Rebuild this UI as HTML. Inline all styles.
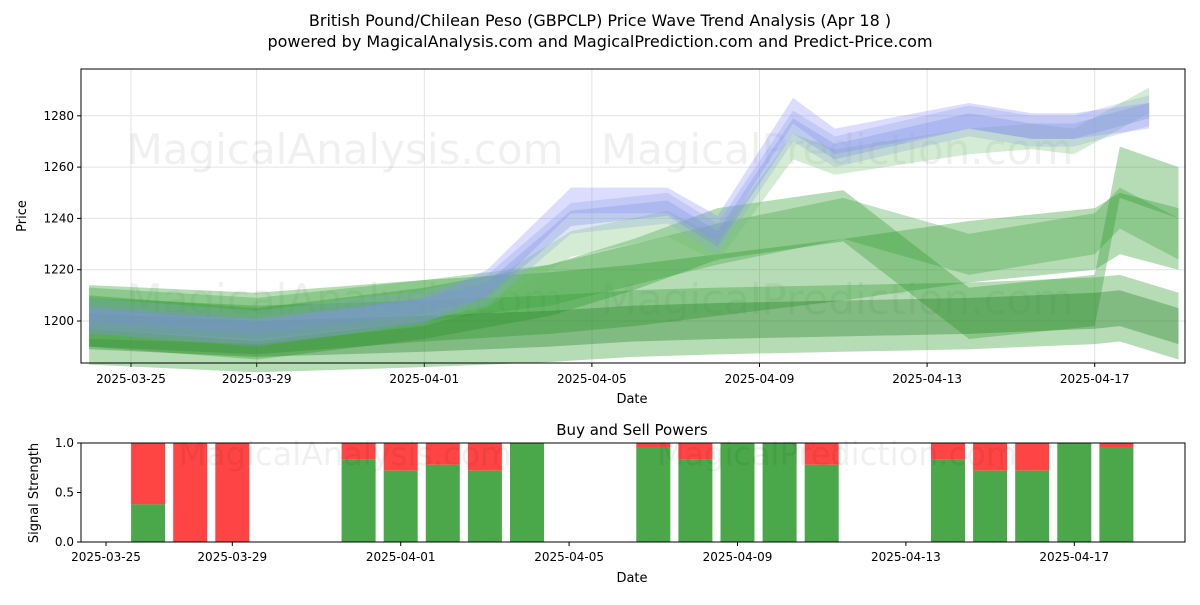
<!DOCTYPE html>
<html><head><meta charset="utf-8"><style>
body{margin:0;background:#fff;font-family:"Liberation Sans","DejaVu Sans",sans-serif}
svg text{font-family:"DejaVu Sans","Liberation Sans",sans-serif}
</style></head><body>
<svg id="c" width="1200" height="600" xmlns="http://www.w3.org/2000/svg">
<rect width="1200" height="600" fill="#fff"/>
<text x="600" y="26" text-anchor="middle" font-size="16">British Pound/Chilean Peso (GBPCLP) Price Wave Trend Analysis (Apr 18 )</text>
<text x="600" y="47" text-anchor="middle" font-size="16">powered by MagicalAnalysis.com and MagicalPrediction.com and Predict-Price.com</text>
<g id="topPanel"></g><g id="botPanel"></g>
</svg>
<script>
const ns="http://www.w3.org/2000/svg";
// ---- data ----
const bandDays=[-1,3,7,8.5,10.5,12.8,14.0,15.8,16.8,20,21.5,22.5,24.3];
const blue1=[1200,1195,1204,1215,1247,1247,1236,1282,1270,1280,1276,1276,1280];
const blue2=[1203,1198,1206,1212,1240,1244,1232,1276,1266,1278,1274,1274,1282];
const blue3=[1198,1196,1203,1210,1230,1238,1228,1268,1262,1270,1272,1270,1286];
const greenDays=[-1,3,7,10,12,14,17,20,23,23.6,25];
const gA=[1200,1195,1203,1212,1222,1234,1241,1203,1208,1258,1250];
const gB=[1202,1199,1204,1207,1210,1214,1220,1227,1232,1238,1232];
const gC=[1196,1193,1195,1197,1199,1200,1201,1202,1204,1205,1198];
const gD=[1205,1201,1208,1214,1222,1230,1240,1226,1234,1244,1232];
const yTicks=[1200,1220,1240,1260,1280];
const xTickDays=[0,3,7,11,15,19,23];
const xTickLabels=["2025-03-25","2025-03-29","2025-04-01","2025-04-05","2025-04-09","2025-04-13","2025-04-17"];
const barDays=[1,2,3,6,7,8,9,10,13,14,15,16,17,20,21,22,23,24];
const buyVals=[0.38,0,0,0.83,0.72,0.78,0.72,1,0.95,0.83,1,1,0.78,0.83,0.72,0.72,1,0.95];
const sigTicks=[0,0.5,1];
// ---- axes ----
const xT=d=>131+d*41.9, yT=v=>321-(v-1200)*2.565;
const xB=d=>106+d*42.1, yB=v=>542-v*99;
function mk(tag,attrs,parent){const e=document.createElementNS(ns,tag);for(const k in attrs)e.setAttribute(k,attrs[k]);parent.appendChild(e);return e;}
const topG=document.getElementById('topPanel'), botG=document.getElementById('botPanel');
xTickDays.forEach((d,i)=>{
 const g=mk('line',{x1:xT(d),x2:xT(d),y1:69,y2:363,stroke:'#e3e3e3'},topG);
 
 
 mk('line',{x1:xT(d),x2:xT(d),y1:363,y2:367,stroke:'#000'},topG);
 const t=mk('text',{x:xT(d),y:383,'text-anchor':'middle','font-size':12},topG);t.textContent=xTickLabels[i];
 
 
});
yTicks.forEach(v=>{
 mk('line',{x1:81,x2:1185,y1:yT(v),y2:yT(v),stroke:'#e3e3e3'},topG);
 mk('line',{x1:77,x2:81,y1:yT(v),y2:yT(v),stroke:'#000'},topG);
 const t=mk('text',{x:74,y:yT(v)+4,'text-anchor':'end','font-size':12},topG);t.textContent=v;
 
 
});
[[345,150],[837,150],[345,300],[837,300]].forEach((p,i)=>{
 const t=mk('text',{x:p[0],y:p[1]+14,'text-anchor':'middle','font-size':42,fill:'#000','fill-opacity':0.06},topG);
 t.textContent=(p[0]<500?'MagicalAnalysis.com':'MagicalPrediction.com');
 
 
});
function band(days,vals,hw,color,op,name){
 let up=days.map((d,i)=>xT(d)+','+yT(vals[i]+hw));
 let lo=days.map((d,i)=>xT(d)+','+yT(vals[i]-hw)).reverse();
 const p=mk('polygon',{points:up.concat(lo).join(' '),fill:color,'fill-opacity':op},topG);
 
 
}
band(greenDays,gC,13,'#2e9a2e',0.35,'green-band-low');
band(greenDays,gB,12,'#2e9a2e',0.35,'green-band-mid');
band(greenDays,gA,10,'#2e9a2e',0.35,'green-band-wave');
band(greenDays,gD,8,'#2e9a2e',0.3,'green-band-upper');
band(greenDays,gC,7,'#1f7f1f',0.35,'green-band-core');
band(bandDays,blue3,5,'#6fbf6f',0.3,'green-light-band');
band(bandDays,blue2,6,'#8fa8d8',0.3,'blue-band-2');
band(bandDays,blue1,5,'#8c8cff',0.3,'blue-band-1');
band(bandDays,blue2,3,'#7a8fe0',0.3,'blue-band-core');
mk('rect',{x:81,y:69,width:1104,height:294,fill:'none',stroke:'#000'},topG);
let t=mk('text',{x:632,y:403,'text-anchor':'middle','font-size':13},topG);t.textContent='Date';
t=mk('text',{x:26,y:216,'text-anchor':'middle','font-size':13,transform:'rotate(-90 26 216)'},topG);t.textContent='Price';
t=mk('text',{x:632,y:435,'text-anchor':'middle','font-size':15},botG);t.textContent='Buy and Sell Powers';
barDays.forEach((d,i)=>{
 const b=buyVals[i];
 const r=mk('rect',{x:xB(d)-17,y:yB(1),width:34,height:yB(b)-yB(1),fill:'#ff4444'},botG);
 
 
 const g=mk('rect',{x:xB(d)-17,y:yB(b),width:34,height:yB(0)-yB(b),fill:'#4aa84a'},botG);
 
 
});
[[345,455],[837,455]].forEach(p=>{
 const w=mk('text',{x:p[0],y:p[1]+10,'text-anchor':'middle','font-size':32,fill:'#000','fill-opacity':0.06},botG);
 w.textContent=(p[0]<500?'MagicalAnalysis.com':'MagicalPrediction.com');
 
 
});
sigTicks.forEach(v=>{
 mk('line',{x1:77,x2:81,y1:yB(v),y2:yB(v),stroke:'#000'},botG);
 const s=mk('text',{x:74,y:yB(v)+4,'text-anchor':'end','font-size':12},botG);s.textContent=v.toFixed(1);
});
xTickDays.forEach((d,i)=>{
 mk('line',{x1:xB(d),x2:xB(d),y1:542,y2:546,stroke:'#000'},botG);
 const s=mk('text',{x:xB(d),y:561,'text-anchor':'middle','font-size':12},botG);s.textContent=xTickLabels[i];
});
mk('rect',{x:81,y:443,width:1104,height:99,fill:'none',stroke:'#000'},botG);
t=mk('text',{x:632,y:582,'text-anchor':'middle','font-size':13},botG);t.textContent='Date';
t=mk('text',{x:38,y:493,'text-anchor':'middle','font-size':13,transform:'rotate(-90 38 493)'},botG);t.textContent='Signal Strength';
</script>
</body></html>
